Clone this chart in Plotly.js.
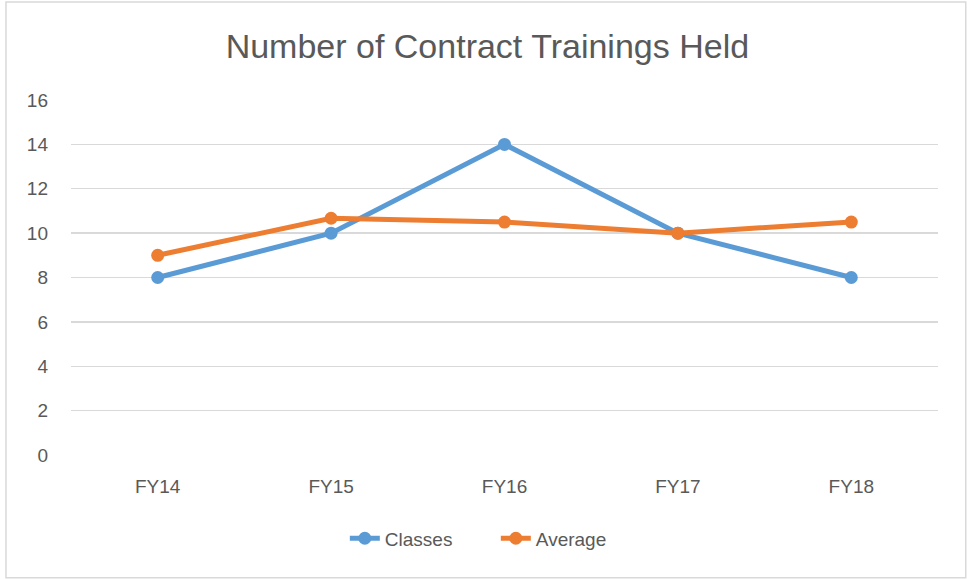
<!DOCTYPE html>
<html><head><meta charset="utf-8">
<script src="https://cdn.plot.ly/plotly-3.0.1.min.js"></script>
<style>html,body{margin:0;padding:0;background:#fff;}#chart{width:967px;height:579px;}</style>
</head><body><div id="chart"></div>
<script>
const categories = ["FY14", "FY15", "FY16", "FY17", "FY18"];
const classes = [8, 10, 14, 10, 8];
const average = [9, 10.67, 10.5, 10, 10.5];
const yTicks = [0, 2, 4, 6, 8, 10, 12, 14, 16];

const fontFam = "Liberation Sans, Arial, sans-serif";
const traces = [
  {x: categories, y: classes, name: "Classes", type: "scatter", mode: "lines+markers",
   line: {color: "#5B9BD5", width: 5}, marker: {color: "#5B9BD5", size: 13}},
  {x: categories, y: average, name: "Average", type: "scatter", mode: "lines+markers",
   line: {color: "#ED7D31", width: 5}, marker: {color: "#ED7D31", size: 13}}
];
const layout = {
  width: 967, height: 579,
  margin: {l: 71, r: 29, t: 100, b: 124},
  paper_bgcolor: "#fff", plot_bgcolor: "#fff",
  font: {family: fontFam, color: "#595959", size: 19},
  title: {text: "Number of Contract Trainings Held", x: 0.504, xanchor: "center", y: 0.92, yanchor: "middle",
          font: {family: fontFam, size: 34, color: "#595959"}},
  xaxis: {type: "category", range: [-0.5, 4.5], showgrid: false, zeroline: false, showline: false,
          ticks: "", tickfont: {size: 19, color: "#595959"}, ticklabelstandoff: 18, fixedrange: true},
  yaxis: {range: [0, 16], tickvals: yTicks, showgrid: true, gridcolor: "#D9D9D9", gridwidth: 1.3,
          zeroline: false, showline: false, ticks: "", tickfont: {size: 19, color: "#595959"},
          ticklabelstandoff: 22, fixedrange: true},
  showlegend: true,
  legend: {orientation: "h", x: 0.49, xanchor: "center", y: -0.235, yanchor: "middle",
           font: {size: 19, color: "#595959"}, traceorder: "normal", entrywidth: 106},
  shapes: [{type: "rect", xref: "paper", yref: "paper", x0: -0.075, x1: 1.032, y0: -0.346, y1: 1.276,
            line: {color: "#D9D9D9", width: 1.5}, fillcolor: "rgba(0,0,0,0)", layer: "below"}]
};
Plotly.newPlot("chart", traces, layout, {displayModeBar: false, staticPlot: true});
</script></body></html>
